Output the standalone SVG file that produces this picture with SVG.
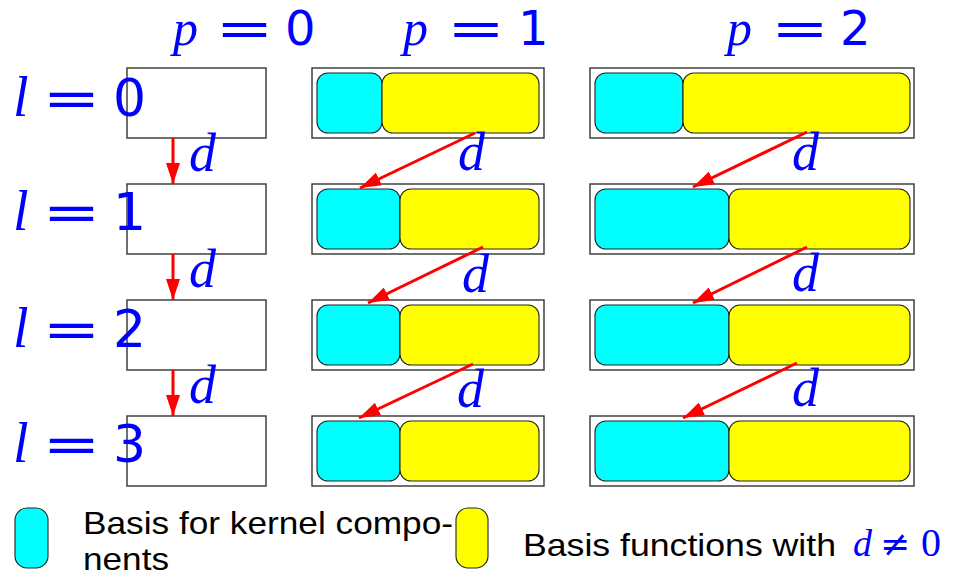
<svg xmlns="http://www.w3.org/2000/svg" width="955" height="577" viewBox="0 0 955 577">
<style>
.outer{fill:#fff;stroke:#333;stroke-width:1.4}
.cy{fill:#00ffff;stroke:#222;stroke-width:1.1}
.ye{fill:#ffff00;stroke:#222;stroke-width:1.1}
.arr{stroke:#ff0000;stroke-width:3;fill:none;marker-end:url(#ah)}
.mi{font-family:"Liberation Serif",serif;font-style:italic;fill:#0000ff}
.eq{font-family:"DejaVu Sans",sans-serif;fill:#0000ff}
.num{font-family:"DejaVu Sans",sans-serif;fill:#0000ff}
.leg{font-family:"Liberation Sans",Arial,sans-serif;font-size:32px;fill:#000}
</style>
<defs>
<marker id="ah" markerUnits="userSpaceOnUse" markerWidth="22" markerHeight="14" refX="21" refY="7" orient="auto">
<path d="M0,0 L21,7 L0,14 z" fill="#ff0000"/>
</marker>
</defs>
<rect width="955" height="577" fill="#fff"/>

<g id="headers">
<text class="mi" x="173" y="45" font-size="50">p</text>
<text class="eq" x="244.5" y="45" font-size="48" text-anchor="middle" textLength="58" lengthAdjust="spacingAndGlyphs">=</text>
<text class="num" x="285" y="45" font-size="48">0</text>
<text class="mi" x="403" y="45" font-size="50">p</text>
<text class="eq" x="476" y="45" font-size="48" text-anchor="middle" textLength="58" lengthAdjust="spacingAndGlyphs">=</text>
<text class="num" x="518" y="45" font-size="48">1</text>
<text class="mi" x="727" y="45" font-size="50">p</text>
<text class="eq" x="800" y="45" font-size="48" text-anchor="middle" textLength="58" lengthAdjust="spacingAndGlyphs">=</text>
<text class="num" x="840" y="45" font-size="48">2</text>
</g>

<g id="col0">
<rect id="n00" class="outer" x="127" y="68" width="139" height="70"/>
<rect id="n01" class="outer" x="127" y="184" width="139" height="70"/>
<rect id="n02" class="outer" x="127" y="300" width="139" height="70"/>
<rect id="n03" class="outer" x="127" y="416" width="139" height="70"/>
</g>

<g id="n10"><rect class="outer" x="312" y="68" width="232" height="70"/><rect class="cy" x="317" y="73" width="65" height="60" rx="11"/><rect class="ye" x="382" y="73" width="157" height="60" rx="11"/></g>
<g id="n11"><rect class="outer" x="312" y="184" width="232" height="70"/><rect class="cy" x="317" y="189" width="83" height="60" rx="11"/><rect class="ye" x="400" y="189" width="139" height="60" rx="11"/></g>
<g id="n12"><rect class="outer" x="312" y="300" width="232" height="70"/><rect class="cy" x="317" y="305" width="83" height="60" rx="11"/><rect class="ye" x="400" y="305" width="139" height="60" rx="11"/></g>
<g id="n13"><rect class="outer" x="312" y="416" width="232" height="70"/><rect class="cy" x="317" y="421" width="83" height="60" rx="11"/><rect class="ye" x="400" y="421" width="139" height="60" rx="11"/></g>

<g id="n20"><rect class="outer" x="590" y="68" width="324" height="70"/><rect class="cy" x="595" y="73" width="88" height="60" rx="11"/><rect class="ye" x="683" y="73" width="227" height="60" rx="11"/></g>
<g id="n21"><rect class="outer" x="590" y="184" width="324" height="70"/><rect class="cy" x="595" y="189" width="134" height="60" rx="11"/><rect class="ye" x="729" y="189" width="181" height="60" rx="11"/></g>
<g id="n22"><rect class="outer" x="590" y="300" width="324" height="70"/><rect class="cy" x="595" y="305" width="134" height="60" rx="11"/><rect class="ye" x="729" y="305" width="181" height="60" rx="11"/></g>
<g id="n23"><rect class="outer" x="590" y="416" width="324" height="70"/><rect class="cy" x="595" y="421" width="134" height="60" rx="11"/><rect class="ye" x="729" y="421" width="181" height="60" rx="11"/></g>

<g id="rowlabels">
<text class="mi" x="13" y="116" font-size="56">l</text>
<text class="eq" x="71.5" y="116" font-size="52" text-anchor="middle" textLength="58" lengthAdjust="spacingAndGlyphs">=</text>
<text class="num" x="113" y="116" font-size="52">0</text>
<text class="mi" x="13" y="230" font-size="56">l</text>
<text class="eq" x="71.5" y="230" font-size="52" text-anchor="middle" textLength="58" lengthAdjust="spacingAndGlyphs">=</text>
<text class="num" x="113" y="230" font-size="52">1</text>
<text class="mi" x="13" y="347" font-size="56">l</text>
<text class="eq" x="71.5" y="347" font-size="52" text-anchor="middle" textLength="58" lengthAdjust="spacingAndGlyphs">=</text>
<text class="num" x="113" y="347" font-size="52">2</text>
<text class="mi" x="13" y="462" font-size="56">l</text>
<text class="eq" x="71.5" y="462" font-size="52" text-anchor="middle" textLength="58" lengthAdjust="spacingAndGlyphs">=</text>
<text class="num" x="113" y="462" font-size="52">3</text>
</g>

<g id="connectors">
<line class="arr" x1="173" y1="138" x2="173" y2="184"/>
<line class="arr" x1="173" y1="254" x2="173" y2="300"/>
<line class="arr" x1="173" y1="370" x2="173" y2="416"/>
<line class="arr" x1="475" y1="133" x2="360" y2="188"/>
<line class="arr" x1="483" y1="247" x2="368" y2="303"/>
<line class="arr" x1="473" y1="364" x2="359" y2="418"/>
<line class="arr" x1="807" y1="132" x2="693" y2="187"/>
<line class="arr" x1="807" y1="247" x2="693" y2="303"/>
<line class="arr" x1="797" y1="363" x2="683" y2="418"/>
<text class="mi" x="189" y="171" font-size="54">d</text>
<text class="mi" x="189" y="287" font-size="54">d</text>
<text class="mi" x="189" y="403" font-size="54">d</text>
<text class="mi" x="458" y="170" font-size="54">d</text>
<text class="mi" x="462" y="292" font-size="54">d</text>
<text class="mi" x="457" y="407" font-size="54">d</text>
<text class="mi" x="792" y="170" font-size="54">d</text>
<text class="mi" x="792" y="291" font-size="54">d</text>
<text class="mi" x="792" y="406" font-size="54">d</text>
</g>

<g id="legend">
<rect class="cy" x="15" y="508" width="33" height="60" rx="12"/>
<text class="leg" x="83" y="534" textLength="370" lengthAdjust="spacingAndGlyphs">Basis for kernel compo-</text>
<text class="leg" x="83" y="570" textLength="86" lengthAdjust="spacingAndGlyphs">nents</text>
<rect class="ye" x="456" y="508" width="32" height="60" rx="12"/>
<text class="leg" x="523" y="556" textLength="313" lengthAdjust="spacingAndGlyphs">Basis functions with</text>
<text class="mi" x="853" y="556" font-size="38">d</text>
<text x="895" y="556" font-family="DejaVu Sans,sans-serif" font-size="36" fill="#0000ff" text-anchor="middle">≠</text>
<text x="921" y="556" font-family="Liberation Serif,serif" font-size="40" fill="#0000ff">0</text>
</g>
</svg>
